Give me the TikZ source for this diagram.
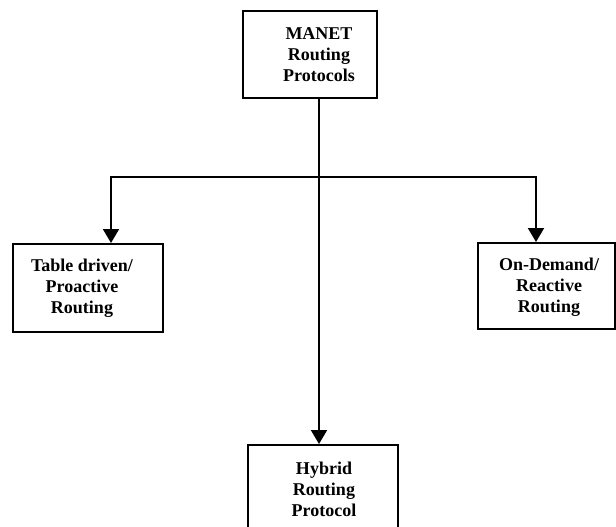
\documentclass[tikz,border=0pt]{standalone}
\usepackage{fontspec}
\setmainfont{Liberation Serif}
\usetikzlibrary{arrows.meta}
\begin{document}
\begin{tikzpicture}[x=1pt,y=-1pt,
  box/.style={draw=black,line width=2pt,inner sep=0pt},
  txt/.style={font=\fontsize{18}{21}\selectfont\bfseries,align=center,inner sep=0pt},
  conn/.style={line width=2pt,-{Triangle[length=14pt,width=16pt]}},
  plain/.style={line width=2pt}]
\useasboundingbox (0,0) rectangle (616,527);
% boxes
\node[box,minimum width=134pt,minimum height=87pt] (top) at (310,54.5) {};
\node[txt] (toptxt) at (319,55) {MANET\\Routing\\Protocols};
\node[box,minimum width=150pt,minimum height=88pt] (left) at (88,288) {};
\node[txt] (lefttxt) at (82,288) {Table driven/\\Proactive\\Routing};
\node[box,minimum width=137pt,minimum height=86pt] (right) at (546.5,286) {};
\node[txt] (righttxt) at (549,287) {On-Demand/\\Reactive\\Routing};
\node[box,minimum width=150pt,minimum height=100pt] (hyb) at (323,495) {};
\node[txt] (hybtxt) at (324,489) {Hybrid\\Routing\\Protocol};
% connectors
\coordinate (j) at (319,177);
\coordinate (jl) at (111,177);
\coordinate (jr) at (536,177);
\draw[conn] (top.south -| j) -- (hyb.north -| j);
\draw[plain] ([xshift=-1pt]jl) -- ([xshift=1pt]jr);
\draw[conn] ([yshift=-1pt]jl) -- (left.north -| jl);
\draw[conn] ([yshift=-1pt]jr) -- (right.north -| jr);
\end{tikzpicture}
\end{document}
